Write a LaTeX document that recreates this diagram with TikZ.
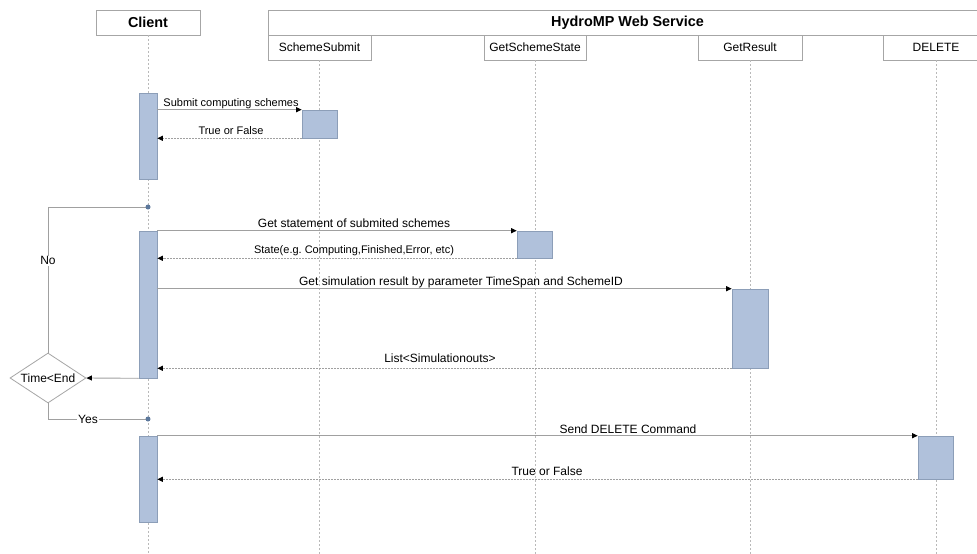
\documentclass[tikz,border=0pt]{standalone}
\usepackage{fontspec}
\setmainfont{Liberation Sans}
\usetikzlibrary{arrows.meta,shapes.geometric,calc}
\definecolor{actfill}{RGB}{176,193,219}
\definecolor{actline}{RGB}{140,158,184}
\definecolor{boxline}{RGB}{166,166,166}
\definecolor{msgline}{RGB}{160,160,160}
\definecolor{lifecol}{RGB}{185,185,185}
\definecolor{dotcol}{RGB}{92,120,156}
\frenchspacing
\begin{document}
\begin{tikzpicture}[x=1pt,y=-1pt,
  hdr/.style={draw=boxline, fill=white, line width=0.8pt, inner sep=0pt, minimum height=25pt, font=\fontsize{14.4}{16}\selectfont\bfseries},
  subbox/.style={draw=boxline, fill=white, line width=0.8pt, inner sep=0pt, minimum height=25pt, font=\fontsize{12}{14}\selectfont},
  life/.style={draw=lifecol, line width=0.8pt, dash pattern=on 2pt off 2pt},
  act/.style={draw=actline, fill=actfill, line width=0.6pt, inner sep=0pt},
  msg/.style={draw=msgline, line width=0.9pt, -{Triangle[length=5.5pt,width=5pt,fill=black,color=black]}},
  ret/.style={draw=msgline, line width=0.9pt, dash pattern=on 1.5pt off 1.5pt, -{Triangle[length=5.5pt,width=5pt,fill=black,color=black]}},
  plain/.style={draw=msgline, line width=0.9pt},
  lbl/.style={inner sep=0pt, font=\fontsize{12}{14}\selectfont},
  lbls/.style={inner sep=0pt, font=\fontsize{11}{13}\selectfont},
  dotc/.style={circle, fill=dotcol, inner sep=0pt, minimum size=5pt},
  decision/.style={diamond, draw=boxline, fill=white, line width=0.8pt, inner sep=0pt, aspect=1.52, minimum width=76pt, minimum height=50pt, font=\fontsize{12}{14}\selectfont}
]
\useasboundingbox (0,0) rectangle (977,554);
\clip (0,0) rectangle (977,554);
\fill[white] (0,0) rectangle (977,554);

% header boxes
\node[hdr, minimum width=104pt] (client) at (148,22.5) {Client};
\node[hdr, minimum width=719pt] (ws) at (627.5,22.5) {HydroMP Web Service};
\node[subbox, minimum width=103pt] (ss) at (319.5,47.5) {SchemeSubmit};
\node[subbox, minimum width=102pt] (gss) at (535,47.5) {GetSchemeState};
\node[subbox, minimum width=104pt] (gr) at (750,47.5) {GetResult};
\node[subbox, minimum width=106pt] (del) at (936,47.5) {DELETE};

% lifelines
\draw[life] (client.south) -- (client.south |- 0,554);
\draw[life] (ss.south) -- (ss.south |- 0,554);
\draw[life] (gss.south) -- (gss.south |- 0,554);
\draw[life] (gr.south) -- (gr.south |- 0,554);
\draw[life] (del.south) -- (del.south |- 0,554);

% activation boxes
\node[act, minimum width=18pt, minimum height=86pt] (c1) at (148,136) {};
\node[act, minimum width=35pt, minimum height=28pt] (s1) at (319.5,124) {};
\node[act, minimum width=18pt, minimum height=147pt] (c2) at (148,304.5) {};
\node[act, minimum width=35pt, minimum height=27pt] (g1) at (534.5,244.5) {};
\node[act, minimum width=36pt, minimum height=79pt] (g2) at (750,328.5) {};
\node[act, minimum width=18pt, minimum height=86pt] (c3) at (148,479) {};
\node[act, minimum width=35pt, minimum height=43pt] (d1) at (935.5,457.5) {};

% decision
\node[decision] (dia) at (48,378) {Time<End};
\coordinate (p1) at (148,207);
\coordinate (p2) at (148,419);

% messages
\draw[msg] (s1.north west -| c1.east) -- (s1.north west);
\draw[ret] (s1.south west) -- (s1.south west -| c1.east);
\draw[msg] (c2.north east) -- (g1.north west);
\draw[ret] (g1.south west) -- (g1.south west -| c2.east);
\draw[msg] (g2.north west -| c2.east) -- (g2.north west);
\draw[ret] (g2.south west) -- (g2.south west -| c2.east);
\draw[msg] (c2.south west) -- (dia.east);
\draw[plain] (p1) -| node[pos=0.685, fill=white, inner sep=1pt, font=\fontsize{12}{14}\selectfont] (no) {No} (dia.north);
\draw[plain] (dia.south) |- node[pos=0.7, fill=white, inner sep=1pt, font=\fontsize{12}{14}\selectfont] (yes) {Yes} (p2);
\draw[msg] (c3.north east) -- (d1.north west);
\draw[ret] (d1.south west) -- (d1.south west -| c3.east);

\node[dotc] (dot1) at (p1) {};
\node[dotc] (dot2) at (p2) {};

% labels
\node[lbls, anchor=base] (t1) at (231,106) {Submit computing schemes};
\node[lbls, anchor=base] (t2) at (231,134) {True or False};
\node[lbl, anchor=base] (t3) at (354,227) {Get statement of submited schemes};
\node[lbls, anchor=base] (t4) at (354,253) {State(e.g. Computing,Finished,Error, etc)};
\node[lbl, anchor=base] (t5) at (461,285.5) {Get simulation result by parameter TimeSpan and SchemeID};
\node[lbl, anchor=base] (t6) at (440,362) {List<Simulationouts>};
\node[lbl, anchor=base] (t7) at (628,433) {Send DELETE Command};
\node[lbl, anchor=base] (t8) at (547,475) {True or False};
\end{tikzpicture}
\end{document}
